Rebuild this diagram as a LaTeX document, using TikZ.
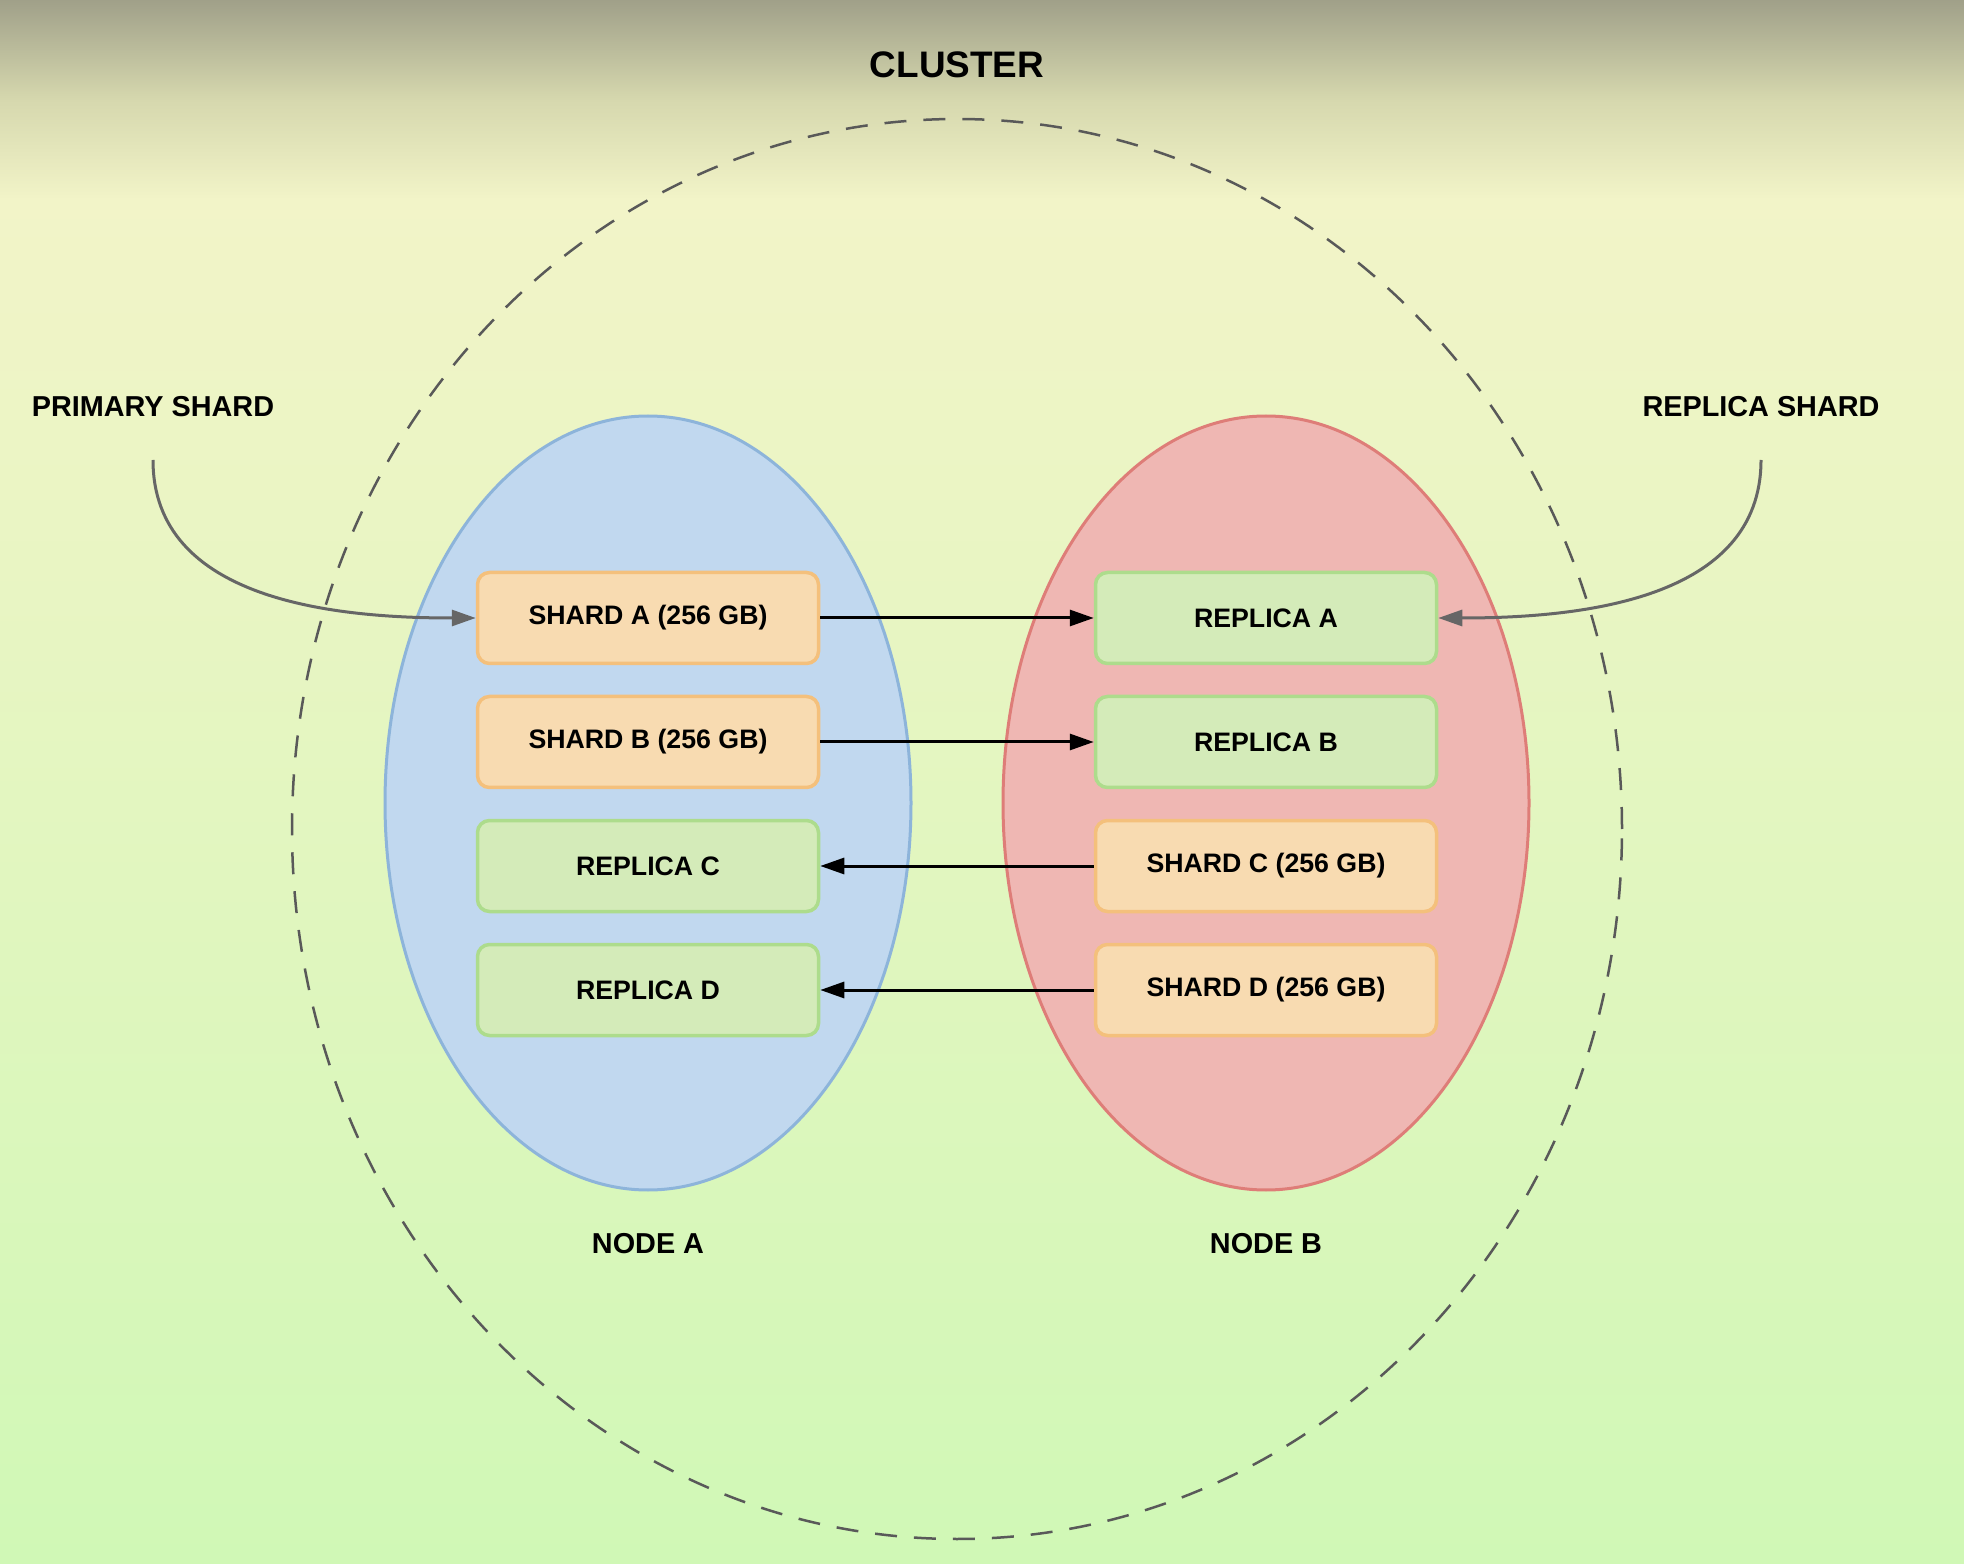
\documentclass[tikz,border=0pt]{standalone}
\usepackage{fontspec}
\setmainfont{Liberation Sans}
\usetikzlibrary{arrows.meta,shapes.geometric}

\definecolor{bgtop}{HTML}{A0A089}
\definecolor{bgmid}{HTML}{D6D8AE}
\definecolor{bgpale}{HTML}{F2F4C8}
\definecolor{bggreen}{HTML}{D0F8B6}
\definecolor{blueFill}{HTML}{C1D8EF}
\definecolor{blueLine}{HTML}{8DB4DA}
\definecolor{redFill}{HTML}{EFB7B3}
\definecolor{redLine}{HTML}{DE7D78}
\definecolor{shardFill}{HTML}{F8DBB1}
\definecolor{shardLine}{HTML}{F4C07C}
\definecolor{replFill}{HTML}{D4EBB9}
\definecolor{replLine}{HTML}{ADDC8C}

\tikzset{
  nodeblob/.style={ellipse, draw, line width=0.3mm, minimum width=52.6mm, minimum height=77.4mm, inner sep=0pt},
  shardbox/.style={draw=shardLine, fill=shardFill, line width=0.35mm, rounded corners=1.2mm,
    minimum width=34.1mm, minimum height=9.1mm, font=\bfseries\fontsize{7.6}{9}\selectfont},
  replbox/.style={shardbox, draw=replLine, fill=replFill},
  tag/.style={font=\bfseries\fontsize{8.2}{10}\selectfont},
  link/.style={line width=0.3mm, -{Triangle[length=2.4mm,width=1.6mm]}},
  curve/.style={line width=0.3mm, draw=black!60, -{Triangle[length=2.4mm,width=1.6mm]}}
}

\begin{document}
\begin{tikzpicture}[x=0.1mm,y=-0.1mm]
		%%%%% BACKGROUND %%%%%
		\useasboundingbox (0,0) rectangle (1964,1564);
		\shade[top color=bgtop, bottom color=bgpale, middle color=bgmid] (0,0) rectangle (1964,200);
		\shade[top color=bgpale, bottom color=bggreen] (0,199) rectangle (1964,1564);
		
		%%%%% CLUSTER %%%%%
		\node[ellipse, draw=black!65, line width=0.25mm, dash pattern=on 2.2mm off 1.7mm,
		      minimum width=133mm, minimum height=142mm] (cluster) at (957,829) {};
		\node[tag, font=\bfseries\fontsize{10.5}{12}\selectfont] (clabel) at (957,65) {CLUSTER};
		
		%%%%% NODES %%%%%
		\node[nodeblob, draw=blueLine, fill=blueFill] (nodeA) at (648,803) {};
		\node[nodeblob, draw=redLine, fill=redFill] (nodeB) at (1266,803) {};
		\node[tag] (alabel) at (648,1244) {NODE A};
		\node[tag] (blabel) at (1266,1244) {NODE B};
		
		%%%%% SHARDS %%%%%
		\node[shardbox] (shA) at (648,618) {SHARD A (256 GB)};
		\node[shardbox] (shB) at (648,742) {SHARD B (256 GB)};
		\node[replbox] (rpC) at (648,866) {REPLICA C};
		\node[replbox] (rpD) at (648,990) {REPLICA D};
		
		\node[replbox] (rpA) at (1266,618) {REPLICA A};
		\node[replbox] (rpB) at (1266,742) {REPLICA B};
		\node[shardbox] (shC) at (1266,866) {SHARD C (256 GB)};
		\node[shardbox] (shD) at (1266,990) {SHARD D (256 GB)};
		
		\draw[link] (shA) -- (rpA);
		\draw[link] (shB) -- (rpB);
		\draw[link] (shC) -- (rpC);
		\draw[link] (shD) -- (rpD);
		
		%%%%% CALLOUTS %%%%%
		\node[tag] (plabel) at (153,407) {PRIMARY SHARD};
		\node[tag] (rlabel) at (1761,407) {REPLICA SHARD};
		\coordinate (pstart) at (153,460);
		\coordinate (rstart) at (1761,460);
		\draw[curve] (pstart) to[out=-90, in=180] (shA.west);
		\draw[curve] (rstart) to[out=-90, in=0] (rpA.east);
		
		%%%%% END %%%%%
\end{tikzpicture}
\end{document}
